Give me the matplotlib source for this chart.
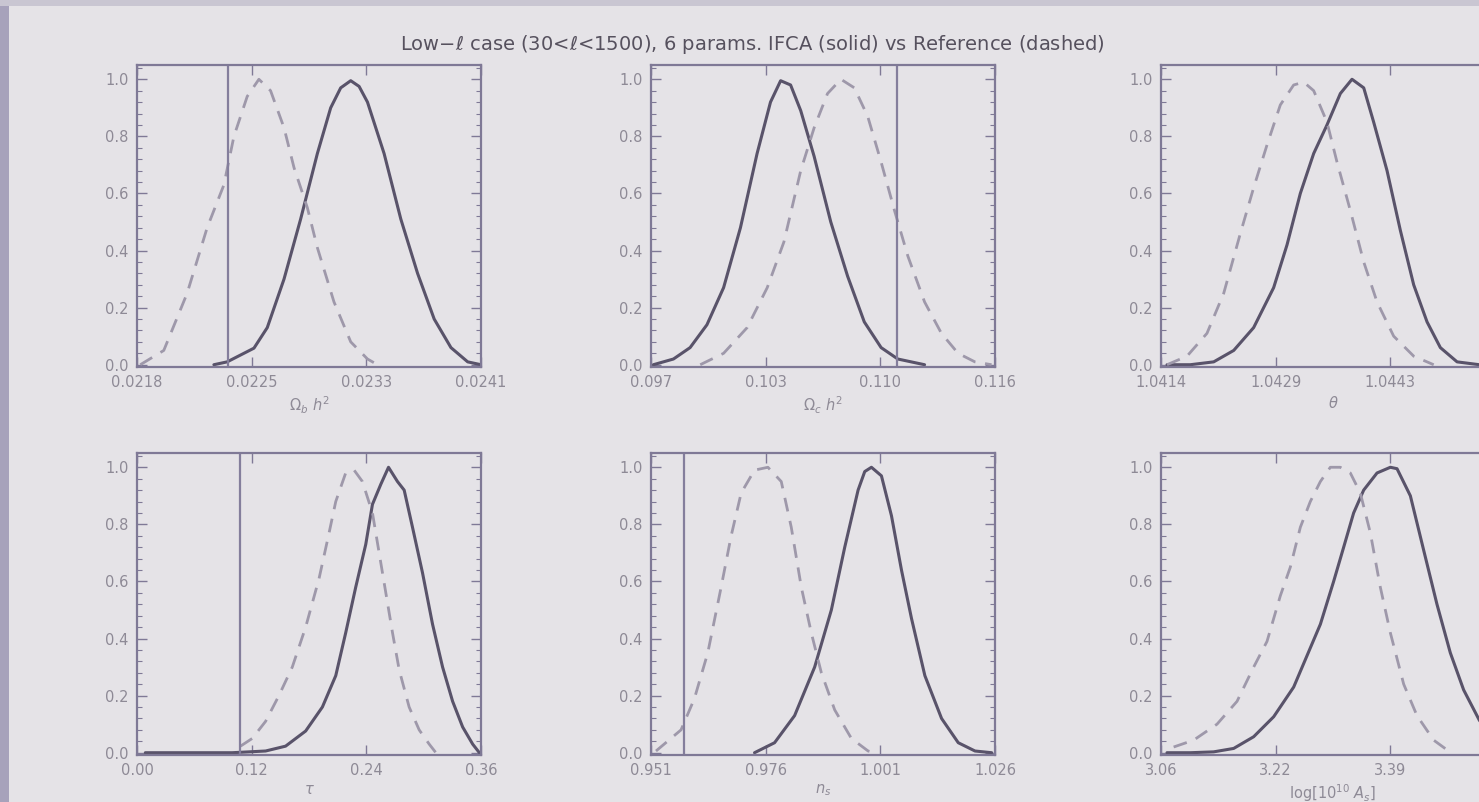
import numpy as np
import matplotlib
matplotlib.use("Agg")
import matplotlib.pyplot as plt
from matplotlib.ticker import MultipleLocator

# ---------------- data ----------------
title = "Low$-\\ell$ case (30<$\\ell$<1500), 6 params. IFCA (solid) vs Reference (dashed)"

xlabels = [r"$\Omega_b\ h^2$", r"$\Omega_c\ h^2$", r"$\theta$",
           r"$\tau$", r"$n_s$", r"log[$10^{10}$ $A_s$]"]

xlims = [(0.0218, 0.0241), (0.097, 0.116), (1.0414, 1.0458),
         (0.00, 0.36), (0.951, 1.026), (3.06, 3.55)]

xticklabels = [["0.0218", "0.0225", "0.0233", "0.0241"],
               ["0.097", "0.103", "0.110", "0.116"],
               ["1.0414", "1.0429", "1.0443", "1.0458"],
               ["0.00", "0.12", "0.24", "0.36"],
               ["0.951", "0.976", "1.001", "1.026"],
               ["3.06", "3.22", "3.39", "3.55"]]

vlines = [0.02241, 0.1106, None, 0.1076, 0.9581, None]

# IFCA (solid)
obh2_x = [0.022314, 0.022403, 0.022582, 0.022671, 0.022783, 0.022894, 0.023006, 0.023095,
          0.023162, 0.023229, 0.023285, 0.023341, 0.023452, 0.023564, 0.023676, 0.023787,
          0.023899, 0.024011, 0.0241]
obh2_y = [0.0, 0.01, 0.058, 0.13, 0.30, 0.51, 0.74, 0.90, 0.97, 0.995, 0.975, 0.92, 0.74,
          0.51, 0.32, 0.16, 0.06, 0.01, 0.0]

och2_x = [0.09713, 0.09824, 0.09916, 0.10009, 0.10101, 0.10194, 0.10286, 0.10360, 0.10416,
          0.10471, 0.10527, 0.10601, 0.10693, 0.10786, 0.10878, 0.10971, 0.11063, 0.11211]
och2_y = [0.0, 0.02, 0.06, 0.14, 0.27, 0.48, 0.74, 0.92, 0.995, 0.98, 0.89, 0.73, 0.50, 0.31,
          0.15, 0.06, 0.02, 0.0]

theta_x = [1.041477, 1.041775, 1.042074, 1.042330, 1.042585, 1.042841, 1.043012, 1.043182,
           1.043353, 1.043523, 1.043694, 1.043843, 1.043993, 1.044120, 1.044291, 1.044462,
           1.044632, 1.044803, 1.044973, 1.045187, 1.045472, 1.0458]
theta_y = [0.0, 0.0, 0.01, 0.05, 0.13, 0.27, 0.42, 0.60, 0.74, 0.84, 0.95, 1.0, 0.97, 0.85,
           0.68, 0.47, 0.28, 0.15, 0.06, 0.01, 0.0, 0.0]

tau_x = [0.0087, 0.0996, 0.1346, 0.1555, 0.1765, 0.1940, 0.2080, 0.2184, 0.2289, 0.2394,
         0.2464, 0.2551, 0.2632, 0.2726, 0.2796, 0.2883, 0.2988, 0.3093, 0.3198, 0.3303,
         0.3408, 0.3513, 0.3583]
tau_y = [0.0, 0.0, 0.006, 0.023, 0.076, 0.16, 0.27, 0.42, 0.58, 0.73, 0.87, 0.94, 1.0, 0.95,
         0.92, 0.79, 0.63, 0.45, 0.30, 0.18, 0.09, 0.03, 0.0]

ns_x = [0.97357, 0.97794, 0.98231, 0.98668, 0.99032, 0.99324, 0.99615, 0.99760, 0.99906,
        1.00124, 1.00343, 1.00561, 1.00780, 1.01071, 1.01435, 1.01799, 1.02164, 1.02528]
ns_y = [0.0, 0.035, 0.13, 0.30, 0.50, 0.72, 0.92, 0.985, 1.0, 0.97, 0.83, 0.64, 0.47, 0.27,
        0.12, 0.035, 0.006, 0.0]

as_x = [3.0685, 3.1018, 3.1350, 3.1635, 3.1920, 3.2205, 3.2490, 3.2680, 3.2870, 3.3059,
        3.3202, 3.3344, 3.3487, 3.3677, 3.3867, 3.3962, 3.4152, 3.4341, 3.4531, 3.4721,
        3.4911, 3.5134, 3.5291, 3.55]
as_y = [0.0, 0.0, 0.003, 0.015, 0.056, 0.126, 0.23, 0.34, 0.45, 0.60, 0.72, 0.84, 0.92, 0.98,
        1.0, 0.995, 0.90, 0.71, 0.52, 0.35, 0.22, 0.114, 0.06, 0.02]

# Reference (dashed)
obh2_ref_x = [0.021822, 0.021979, 0.022135, 0.022269, 0.022381, 0.022448, 0.022537, 0.022615,
              0.022693, 0.022783, 0.022850, 0.022939, 0.023006, 0.023117, 0.023229, 0.023341, 0.023408]
obh2_ref_y = [0.0, 0.05, 0.25, 0.48, 0.63, 0.80, 0.94, 1.0, 0.96, 0.83, 0.69, 0.55, 0.41, 0.22,
              0.08, 0.02, 0.0]

och2_ref_x = [0.09972, 0.10101, 0.10231, 0.10342, 0.10434, 0.10527, 0.10601, 0.10675, 0.10749,
              0.10823, 0.10897, 0.10971, 0.11045, 0.11119, 0.11211, 0.11304, 0.11396, 0.11489, 0.11581]
och2_ref_y = [0.0, 0.04, 0.13, 0.27, 0.43, 0.68, 0.83, 0.95, 1.0, 0.97, 0.87, 0.71, 0.54, 0.38,
              0.22, 0.11, 0.04, 0.01, 0.0]

theta_ref_x = [1.041477, 1.041733, 1.041988, 1.042202, 1.042415, 1.042585, 1.042756, 1.042926,
               1.043097, 1.043225, 1.043353, 1.043523, 1.043651, 1.043822, 1.043993, 1.044163,
               1.044376, 1.044632, 1.044888]
theta_ref_y = [0.0, 0.03, 0.11, 0.25, 0.46, 0.62, 0.77, 0.91, 0.98, 0.99, 0.96, 0.85, 0.71, 0.54,
               0.36, 0.22, 0.10, 0.03, 0.0]

tau_ref_x = [0.1083, 0.1206, 0.1346, 0.1485, 0.1625, 0.1765, 0.1905, 0.2010, 0.2080, 0.2184,
             0.2272, 0.2359, 0.2464, 0.2534, 0.2604, 0.2674, 0.2744, 0.2848, 0.2953, 0.3058, 0.3128]
tau_ref_y = [0.023, 0.05, 0.11, 0.20, 0.30, 0.44, 0.61, 0.77, 0.88, 0.98, 0.99, 0.95, 0.84, 0.70,
             0.56, 0.42, 0.29, 0.16, 0.08, 0.03, 0.0]

ns_ref_x = [0.95209, 0.95755, 0.96047, 0.96338, 0.96629, 0.96848, 0.97066, 0.97357, 0.97649,
            0.97940, 0.98158, 0.98377, 0.98595, 0.98814, 0.99105, 0.99469, 0.99833, 0.99979]
ns_ref_y = [0.006, 0.08, 0.19, 0.35, 0.58, 0.76, 0.91, 0.99, 1.0, 0.95, 0.79, 0.58, 0.42, 0.28,
            0.15, 0.05, 0.006, 0.0]

as_ref_x = [3.0780, 3.1065, 3.1398, 3.1683, 3.1920, 3.2110, 3.2300, 3.2442, 3.2585, 3.2727,
            3.2870, 3.3012, 3.3154, 3.3297, 3.3439, 3.3582, 3.3724, 3.3867, 3.4057, 3.4246,
            3.4484, 3.4674]
as_ref_y = [0.02, 0.044, 0.10, 0.18, 0.30, 0.39, 0.55, 0.65, 0.79, 0.88, 0.95, 1.0, 1.0, 0.98,
            0.91, 0.77, 0.58, 0.42, 0.24, 0.13, 0.044, 0.01]

solid_x = [obh2_x, och2_x, theta_x, tau_x, ns_x, as_x]
solid_y = [obh2_y, och2_y, theta_y, tau_y, ns_y, as_y]
ref_x = [obh2_ref_x, och2_ref_x, theta_ref_x, tau_ref_x, ns_ref_x, as_ref_x]
ref_y = [obh2_ref_y, och2_ref_y, theta_ref_y, tau_ref_y, ns_ref_y, as_ref_y]

# ---------------- style ----------------
BG = "#e5e3e7"
FRAME = "#7f7996"
SOLID = "#59536a"
DASH = "#9e98aa"
VLINE = "#847e9c"
TICKTXT = "#8e8a96"
TITLETXT = "#56515e"

W, H = 1479, 802
fig = plt.figure(figsize=(W / 100, H / 100), dpi=100, facecolor=BG)

# left lavender strip (slide edge) and top band
fig.patches.append(plt.Rectangle((0, 0), 9 / W, 1, transform=fig.transFigure,
                                 facecolor="#a7a2bb", edgecolor="none", zorder=0))
fig.patches.append(plt.Rectangle((0, 1 - 6 / H), 1, 6 / H, transform=fig.transFigure,
                                 facecolor="#c9c6d2", edgecolor="none", zorder=0))

col_left = [137, 651, 1161]
row_top = [65, 453]
aw, ah = 344, 302

for i in range(6):
    r, c = divmod(i, 3)
    l = col_left[c] / W
    b = 1 - (row_top[r] + ah) / H
    ax = fig.add_axes([l, b, aw / W, ah / H])
    ax.set_facecolor("none")
    ax.plot(solid_x[i], solid_y[i], color=SOLID, lw=2.2,
            solid_joinstyle="round", solid_capstyle="round")
    ax.plot(ref_x[i], ref_y[i], color=DASH, lw=2.0, dashes=(5, 3.5))
    if vlines[i] is not None:
        ax.axvline(vlines[i], color=VLINE, lw=1.6)
    lo, hi = xlims[i]
    ax.set_xlim(lo, hi)
    ax.set_ylim(-0.008, 1.05)
    ax.set_xticks(np.linspace(lo, hi, 4))
    ax.set_xticklabels(xticklabels[i])
    ax.set_yticks([0, 0.2, 0.4, 0.6, 0.8, 1.0])
    ax.set_yticklabels(["0.0", "0.2", "0.4", "0.6", "0.8", "1.0"])
    ax.yaxis.set_minor_locator(MultipleLocator(0.04))
    ax.tick_params(which="both", direction="in", top=True, right=True,
                   color=FRAME, labelcolor=TICKTXT, labelsize=10.5)
    ax.tick_params(which="major", length=7, width=1.0, pad=6)
    ax.tick_params(which="minor", length=3.5, width=0.8)
    for s in ax.spines.values():
        s.set_color(FRAME)
        s.set_linewidth(1.6)
    ax.set_xlabel(xlabels[i], color=TICKTXT, fontsize=10.5, labelpad=3)

fig.text(752 / W, 1 - 44 / H, title, ha="center", va="center",
         fontsize=14, color=TITLETXT)

fig.savefig("out.png", dpi=100, facecolor=BG)
